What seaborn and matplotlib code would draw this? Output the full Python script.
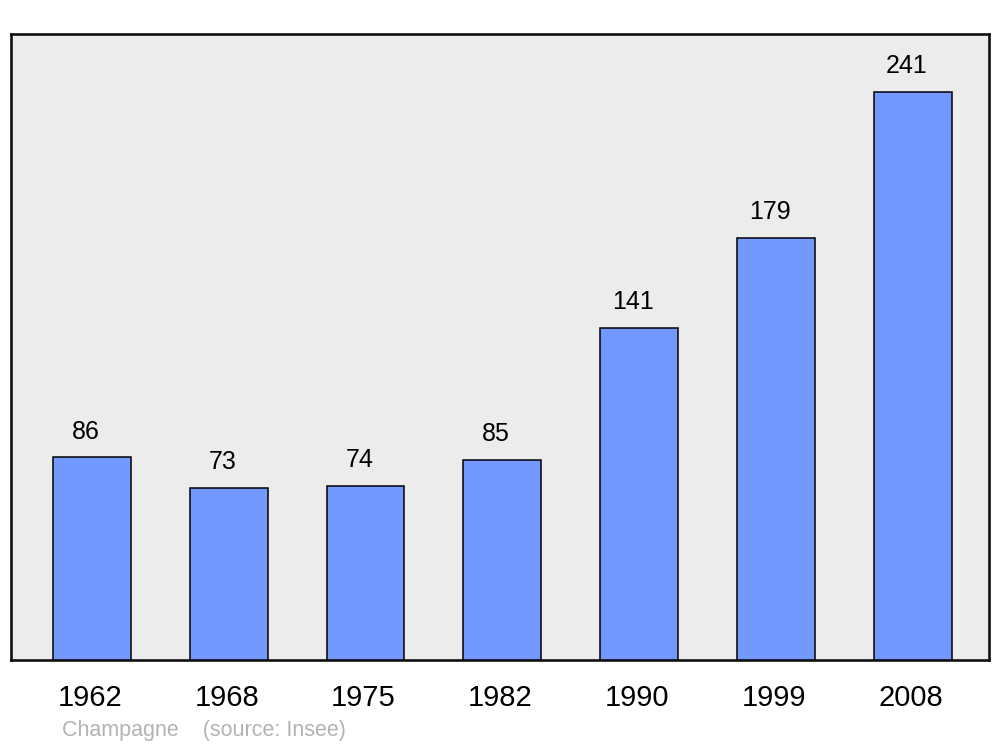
import matplotlib
matplotlib.use("Agg")
import matplotlib.pyplot as plt
import matplotlib.transforms as mtransforms
import seaborn as sns
import pandas as pd

# data
years = ["1962", "1968", "1975", "1982", "1990", "1999", "2008"]
population = [86, 73, 74, 85, 141, 179, 241]

BAR_COLOR = "#7399ff"
BG_COLOR = "#ececec"

sns.set_style("white")
plt.rcParams["font.family"] = ["Liberation Sans", "DejaVu Sans"]

df = pd.DataFrame({"year": years, "pop": population})

fig = plt.figure(figsize=(10, 7.47), dpi=100)
ax = fig.add_axes([0.011, 0.1165, 0.978, 0.838])
ax.set_facecolor(BG_COLOR)

sns.barplot(data=df, x="year", y="pop", color=BAR_COLOR, saturation=1,
            width=0.57, edgecolor="black", linewidth=1.1, ax=ax, zorder=3)

# value labels above each bar (slightly left of centre, as in the original)
for i, v in enumerate(population):
    ax.annotate(str(v), (i, v), xytext=(-4.5, 18.5), textcoords="offset points",
                ha="center", va="center", fontsize=18, color="black")

ax.set_xlim(-0.592, 6.559)
ax.set_ylim(0, 265.6)
ax.set_yticks([])
ax.set_xlabel("")
ax.set_ylabel("")
ax.tick_params(axis="x", length=0, pad=17, labelsize=21, labelcolor="black")
shift = mtransforms.ScaledTranslation(-2 / 100, 0, fig.dpi_scale_trans)
for lab in ax.get_xticklabels():
    lab.set_transform(lab.get_transform() + shift)
for s in ax.spines.values():
    s.set_linewidth(1.9)
    s.set_color("#111111")

fig.text(0.062, 0.0225, "Champagne    (source: Insee)", fontsize=15.5,
         color="#b3b3b3", ha="left", va="center")

fig.savefig("out.png", dpi=100, facecolor="white")
